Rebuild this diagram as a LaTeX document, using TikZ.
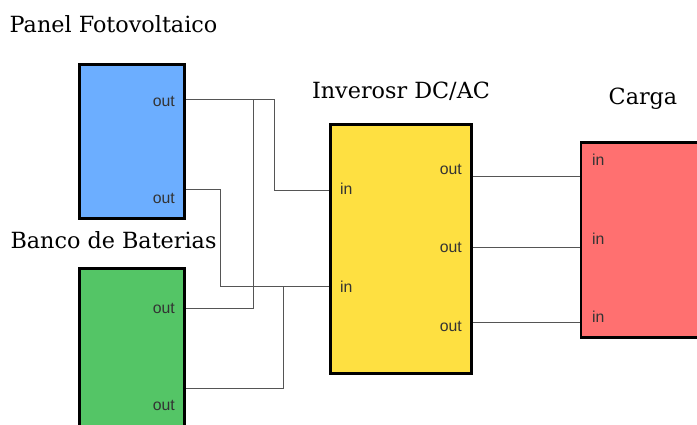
\documentclass[tikz,border=0pt]{standalone}
\usepackage{fontspec}
\setmainfont{DejaVu Serif}
\setsansfont{Liberation Sans}
\usepackage{xcolor}
\definecolor{panelblue}{HTML}{6CAEFF}
\definecolor{batgreen}{HTML}{54C566}
\definecolor{invyellow}{HTML}{FEE041}
\definecolor{loadred}{HTML}{FF7070}
\definecolor{wiregray}{HTML}{555555}
\definecolor{porttext}{HTML}{333333}
\usepackage{tikz}
\usetikzlibrary{positioning,calc}

\begin{document}
\begin{tikzpicture}[x=1pt,y=-1pt,
  block/.style={rectangle, draw=black, line width=2.6pt, inner sep=0pt},
  portlabel/.style={font=\sffamily\fontsize{15.8}{18}\selectfont, text=porttext, inner sep=0pt},
  blocktitle/.style={font=\fontsize{22.3}{26}\selectfont, text=black, inner sep=0pt, anchor=base},
  wire/.style={draw=wiregray, line width=1pt}]
  \useasboundingbox (0,0) rectangle (697,425);

  % bloques
  \node[block, fill=panelblue, minimum width=105.5pt, minimum height=154.5pt] (panel) at (132,141.5) {};
  \node[block, fill=batgreen, minimum width=105.5pt, minimum height=197pt] (bat) at (132,367) {};
  \node[block, fill=invyellow, minimum width=141.5pt, minimum height=249.5pt] (inv) at (401,249) {};
  \node[block, fill=loadred, minimum width=140pt, minimum height=195.5pt] (load) at (651,240) {};

  % titulos
  \node[blocktitle] (paneltitle) at (113.5,33) {Panel Fotovoltaico};
  \node[blocktitle] (battitle) at (113.5,248) {Banco de Baterias};
  \node[blocktitle] (invtitle) at (401,99) {Inverosr DC/AC};
  \node[blocktitle] (loadtitle) at (643,105) {Carga};

  % etiquetas de puertos
  \node[portlabel, anchor=base east] (pvlab1) at (175,107) {out};
  \node[portlabel, anchor=base east] (pvlab2) at (175,204) {out};
  \node[portlabel, anchor=base east] (batlab1) at (175,313) {out};
  \node[portlabel, anchor=base east] (batlab2) at (175,410) {out};
  \node[portlabel, anchor=base west] (invinlab1) at (340,195) {in};
  \node[portlabel, anchor=base west] (invinlab2) at (340,292) {in};
  \node[portlabel, anchor=base east] (invoutlab1) at (462,175) {out};
  \node[portlabel, anchor=base east] (invoutlab2) at (462,253) {out};
  \node[portlabel, anchor=base east] (invoutlab3) at (462,331) {out};
  \node[portlabel, anchor=base west] (loadlab1) at (592,166) {in};
  \node[portlabel, anchor=base west] (loadlab2) at (592,244) {in};
  \node[portlabel, anchor=base west] (loadlab3) at (592,322) {in};

  % puertos
  \coordinate (pv1) at (panel.east |- 0,100);
  \coordinate (pv2) at (panel.east |- 0,190);
  \coordinate (bat1) at (bat.east |- 0,308);
  \coordinate (bat2) at (bat.east |- 0,388);
  \coordinate (invin1) at (inv.west |- 0,191);
  \coordinate (invin2) at (inv.west |- 0,286);
  \coordinate (invout1) at (inv.east |- 0,177);
  \coordinate (invout2) at (inv.east |- 0,248);
  \coordinate (invout3) at (inv.east |- 0,322);
  \coordinate (loadin1) at (load.west |- 0,177);
  \coordinate (loadin2) at (load.west |- 0,248);
  \coordinate (loadin3) at (load.west |- 0,322);

  % conexiones
  \draw[wire] (pv1) -- ++(88,0) |- (invin1);
  \draw[wire] (bat1) -- ++(67,0) |- (pv1);
  \draw[wire] (pv2) -- ++(34,0) |- (invin2);
  \draw[wire] (bat2) -- ++(97,0) |- (invin2);
  \draw[wire] (invout1) -- (loadin1);
  \draw[wire] (invout2) -- (loadin2);
  \draw[wire] (invout3) -- (loadin3);
\end{tikzpicture}
\end{document}
